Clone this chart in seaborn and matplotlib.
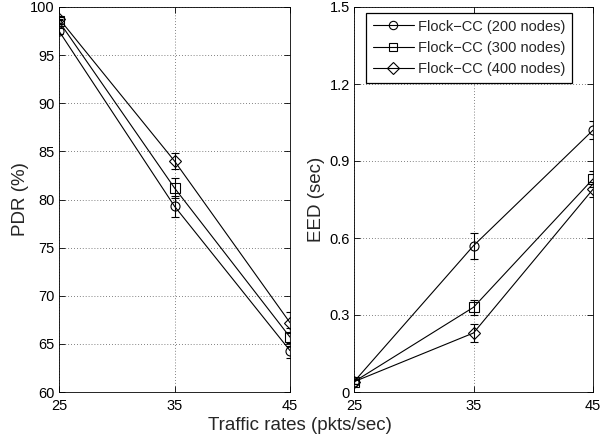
import matplotlib
matplotlib.use("Agg")
import matplotlib.pyplot as plt
import seaborn as sns
import pandas as pd
import numpy as np

rates = [25, 35, 45]
series = ["Flock\u2212CC (200 nodes)", "Flock\u2212CC (300 nodes)", "Flock\u2212CC (400 nodes)"]
markers = ["o", "s", "D"]

pdr_200 = [97.5, 79.3, 64.3]
pdr_300 = [98.5, 81.2, 65.7]
pdr_400 = [98.8, 84.0, 67.2]
pdr_err_200 = [0.3, 1.1, 0.8]
pdr_err_300 = [0.3, 1.0, 0.9]
pdr_err_400 = [0.2, 0.8, 1.1]

eed_200 = [0.04, 0.57, 1.02]
eed_300 = [0.04, 0.33, 0.83]
eed_400 = [0.04, 0.23, 0.79]
eed_err_200 = [0.01, 0.05, 0.035]
eed_err_300 = [0.01, 0.03, 0.03]
eed_err_400 = [0.01, 0.035, 0.03]

sns.set_style("white")
plt.rcParams['font.family'] = ['Liberation Sans', 'DejaVu Sans']

def make_df(vals):
    rows = []
    for name, v in zip(series, vals):
        for x, y in zip(rates, v):
            rows.append({"rate": x, "value": y, "series": name})
    return pd.DataFrame(rows)

fig = plt.figure(figsize=(6.0, 4.46), dpi=100)
ax1 = fig.add_axes([59/600, 1-392/446, (290-59)/600, (392-7)/446])
ax2 = fig.add_axes([354/600, 1-392/446, (593-354)/600, (392-7)/446])

def draw(ax, vals, errs, ylim, yticks, yticklabels, ylabel, lpad):
    df = make_df(vals)
    sns.lineplot(data=df, x="rate", y="value", hue="series", style="series",
                 markers=markers, dashes=False, palette=["black"]*3,
                 markersize=6.5, markerfacecolor="none", markeredgecolor="black",
                 markeredgewidth=0.8, linewidth=0.8, ax=ax, legend=False, errorbar=None)
    for v, e in zip(vals, errs):
        ax.errorbar(rates, v, yerr=e, fmt="none", ecolor="black", elinewidth=0.8,
                    capsize=3, capthick=0.8)
    ax.set_xlim(25, 45)
    ax.set_ylim(*ylim)
    ax.set_xticks(rates)
    ax.set_xticklabels([str(r) for r in rates], fontsize=10.5)
    ax.set_yticks(yticks)
    ax.set_yticklabels(yticklabels, fontsize=10.5)
    ax.set_xlabel("")
    ax.set_ylabel(ylabel, fontsize=13.5, labelpad=lpad)
    ax.grid(True, linestyle=(0, (1, 2.5)), color="0.35", linewidth=0.6)
    ax.tick_params(direction="in", top=True, right=True, length=4, width=0.6,
                   bottom=True, left=True, colors="black", pad=3)
    ax.tick_params(axis="x", pad=5)
    for s in ax.spines.values():
        s.set_color("black")
        s.set_linewidth(0.6)

draw(ax1, [pdr_200, pdr_300, pdr_400], [pdr_err_200, pdr_err_300, pdr_err_400],
     (60, 100), [60, 65, 70, 75, 80, 85, 90, 95, 100],
     ["60", "65", "70", "75", "80", "85", "90", "95", "100"], "PDR (%)", 1)
draw(ax2, [eed_200, eed_300, eed_400], [eed_err_200, eed_err_300, eed_err_400],
     (0, 1.5), [0, 0.3, 0.6, 0.9, 1.2, 1.5],
     ["0", "0.3", "0.6", "0.9", "1.2", "1.5"], "EED (sec)", 3)

from matplotlib.lines import Line2D
handles = [Line2D([0], [0], color="black", lw=0.8, marker=m, markersize=6,
                  markerfacecolor="none", markeredgecolor="black", markeredgewidth=0.8)
           for m in markers]
leg = ax2.legend(handles, series, loc="upper right",
                 bbox_to_anchor=((572-354)/239, (392-13)/385),
                 fontsize=10.5, frameon=True, fancybox=False, framealpha=1,
                 edgecolor="black", handlelength=2.8, borderpad=0.45, labelspacing=0.5,
                 handletextpad=0.3, borderaxespad=0)
leg.get_frame().set_linewidth(0.9)

fig.text(0.5, 1-425/446, "Traffic rates (pkts/sec)", ha="center", va="center", fontsize=13.5)

fig.savefig("out.png", dpi=100)
